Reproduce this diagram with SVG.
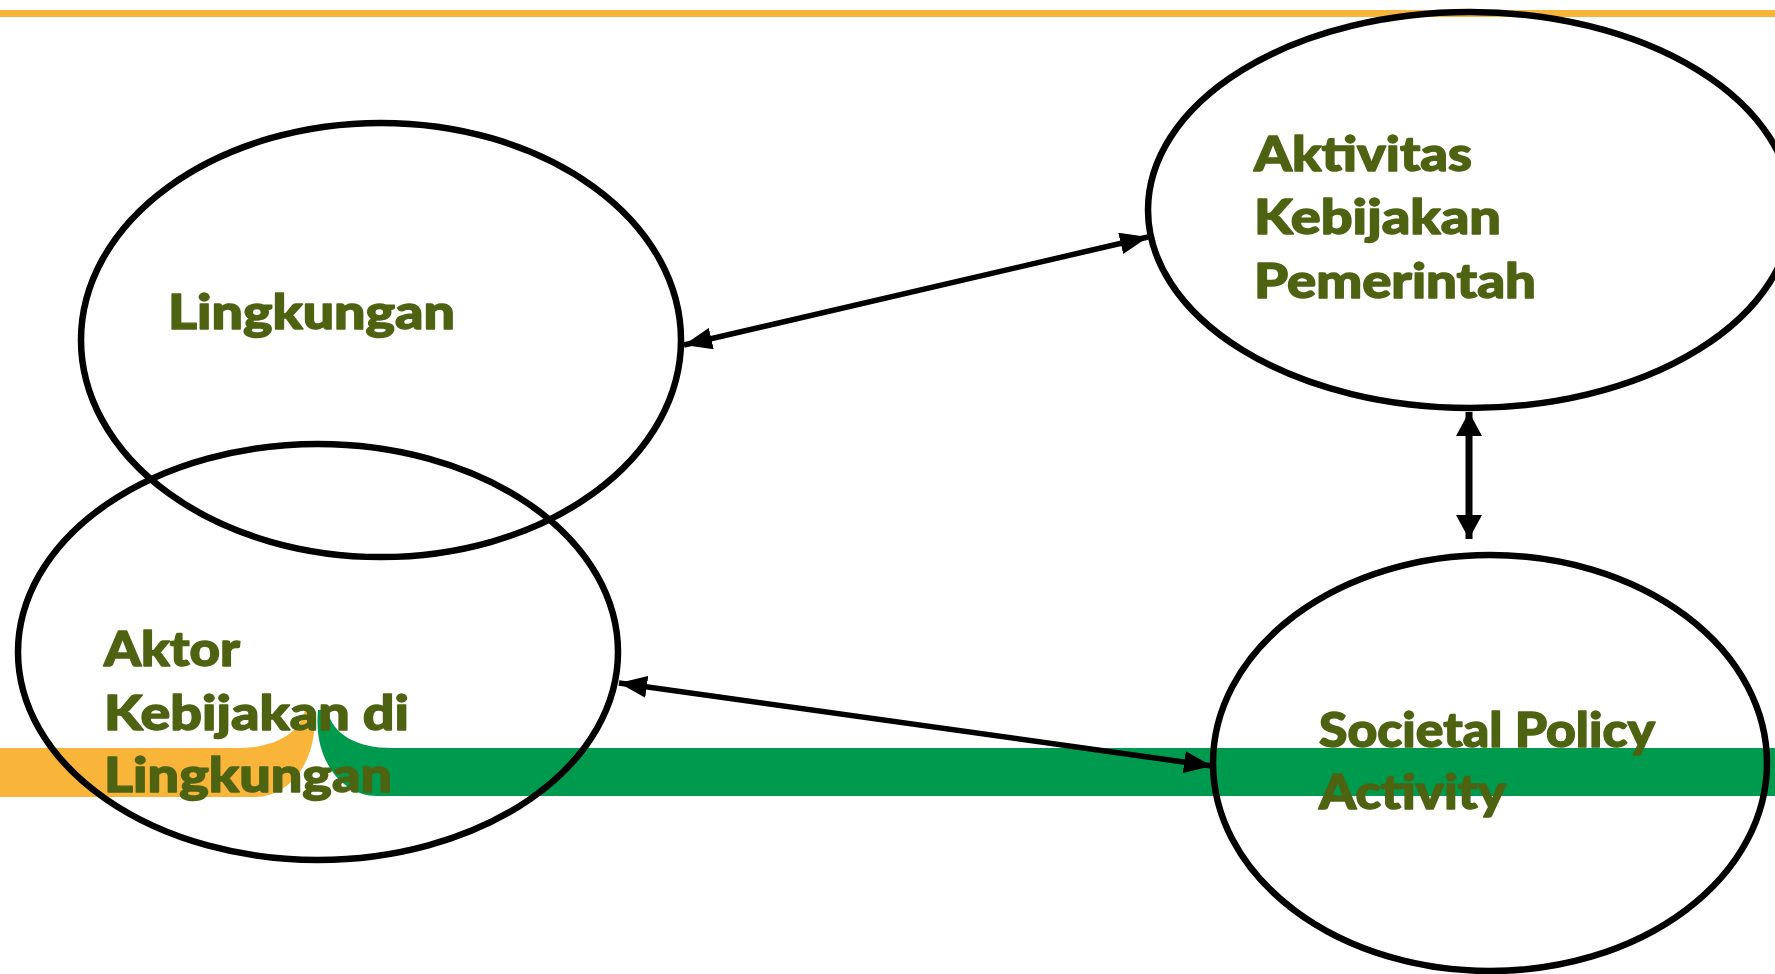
<svg xmlns="http://www.w3.org/2000/svg" width="1775" height="974" viewBox="0 0 1775 974">
<style>
.node{fill:none;stroke:#000;stroke-width:6.5}
.lbl{font-family:"Lato","Liberation Sans",sans-serif;font-weight:900;font-size:48px;fill:#4E6311;stroke:#4E6311;stroke-width:1.4;stroke-linejoin:round}
.conn{stroke:#000;stroke-width:5.5;fill:none;marker-start:url(#ah);marker-end:url(#ah)}
.connv{stroke:#000;stroke-width:7;fill:none;marker-start:url(#ahv);marker-end:url(#ahv)}
</style>
<defs>
<marker id="ah" viewBox="0 0 14 11" refX="14" refY="5.5" markerWidth="28" markerHeight="22" orient="auto-start-reverse" markerUnits="userSpaceOnUse">
<path d="M0,0 L14,5.5 L0,11 Z" fill="#000"/>
</marker>
<marker id="ahv" viewBox="0 0 12 13" refX="12" refY="6.5" markerWidth="24" markerHeight="26" orient="auto-start-reverse" markerUnits="userSpaceOnUse">
<path d="M0,0 L12,6.5 L0,13 Z" fill="#000"/>
</marker>
</defs>
<rect width="1775" height="974" fill="#fff"/>
<g id="decor">
<rect x="0" y="10" width="1775" height="7" fill="#F8B53A"/>
<path d="M0,748 H238 C275,748 300,733 305,710 H314 C319,760 290,797 255,797 H0 Z" fill="#F8B53A"/>
<path d="M318,710 H327 C333,735 357,748 392,748 H1775 V796 H377 C342,796 313,760 318,710 Z" fill="#009A4E"/>
</g>
<g id="node-lingkungan">
<ellipse class="node" cx="381" cy="340" rx="300" ry="217"/>
<text class="lbl" x="168" y="329" textLength="287" lengthAdjust="spacingAndGlyphs">Lingkungan</text>
</g>
<g id="node-aktor">
<ellipse class="node" cx="318" cy="652" rx="300" ry="208"/>
<text class="lbl" x="104" y="666" textLength="136" lengthAdjust="spacingAndGlyphs">Aktor</text>
<text class="lbl" x="104" y="730" textLength="305" lengthAdjust="spacingAndGlyphs">Kebijakan di</text>
<text class="lbl" x="104" y="792" textLength="288" lengthAdjust="spacingAndGlyphs">Lingkungan</text>
</g>
<g id="node-aktivitas">
<ellipse class="node" cx="1470" cy="210" rx="322" ry="198"/>
<text class="lbl" x="1254" y="171" textLength="218" lengthAdjust="spacingAndGlyphs">Aktivitas</text>
<text class="lbl" x="1254" y="234" textLength="247" lengthAdjust="spacingAndGlyphs">Kebijakan</text>
<text class="lbl" x="1254" y="298" textLength="282" lengthAdjust="spacingAndGlyphs">Pemerintah</text>
</g>
<g id="node-societal">
<ellipse class="node" cx="1490" cy="763" rx="277" ry="208"/>
<text class="lbl" x="1319" y="747" textLength="336" lengthAdjust="spacingAndGlyphs">Societal Policy</text>
<text class="lbl" x="1319" y="809" textLength="187" lengthAdjust="spacingAndGlyphs">Activity</text>
</g>
<g id="connectors">
<line class="conn" x1="684" y1="345" x2="1148" y2="237"/>
<line class="connv" x1="1469" y1="412" x2="1469" y2="539"/>
<line class="conn" x1="619" y1="683" x2="1212" y2="766"/>
</g>
</svg>
